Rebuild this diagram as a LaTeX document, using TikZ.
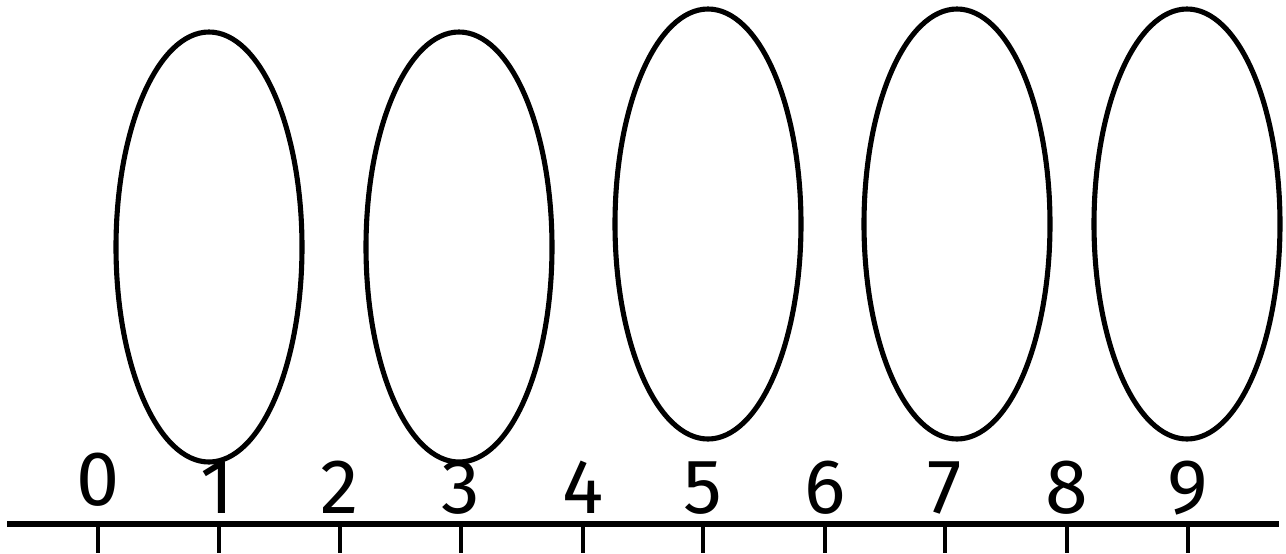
\documentclass[tikz,border=0pt]{standalone}
\usepackage{fontspec}
\setmainfont{Fira Sans}
\usepackage{tikz}

\begin{document}
\begin{tikzpicture}[x=0.2mm, y=-0.2mm,
  ovale/.style={draw=black, line width=2.9pt},
  asse/.style={draw=black, line width=3pt},
  tacca/.style={draw=black, line width=2.5pt},
  cifra/.style={anchor=base, inner sep=0pt, font=\fontsize{44}{46}\selectfont}]

% Riquadro
\useasboundingbox (0,0) rectangle (1286,553);

% Raggi degli ovali
\def\rx{1.86cm}
\def\ry{4.30cm}

% Ovali
\draw[ovale] (209,247) ellipse [x radius=\rx, y radius=\ry];
\draw[ovale] (459,247) ellipse [x radius=\rx, y radius=\ry];
\draw[ovale] (708,224) ellipse [x radius=\rx, y radius=\ry];
\draw[ovale] (957,224) ellipse [x radius=\rx, y radius=\ry];
\draw[ovale] (1187,224) ellipse [x radius=\rx, y radius=\ry];

% Retta numerica
\coordinate (asseA) at (7,524);
\coordinate (asseB) at (1279,524);
\draw[asse] (asseA) -- (asseB);

% Tacche
\draw[tacca] (98,524) -- (98,553);
\draw[tacca] (219,524) -- (219,553);
\draw[tacca] (340,524) -- (340,553);
\draw[tacca] (461,524) -- (461,553);
\draw[tacca] (583,524) -- (583,553);
\draw[tacca] (703,524) -- (703,553);
\draw[tacca] (825,524) -- (825,553);
\draw[tacca] (945,524) -- (945,553);
\draw[tacca] (1067,524) -- (1067,553);
\draw[tacca] (1188,524) -- (1188,553);

% Etichette
\node[cifra] (n0) at (98,505) {0};
\node[cifra] (n1) at (217,513) {1};
\node[cifra] (n2) at (340,513) {2};
\node[cifra] (n3) at (461,513) {3};
\node[cifra] (n4) at (583,513) {4};
\node[cifra] (n5) at (703,513) {5};
\node[cifra] (n6) at (825,513) {6};
\node[cifra] (n7) at (945,513) {7};
\node[cifra] (n8) at (1067,513) {8};
\node[cifra] (n9) at (1188,513) {9};
\end{tikzpicture}
\end{document}
